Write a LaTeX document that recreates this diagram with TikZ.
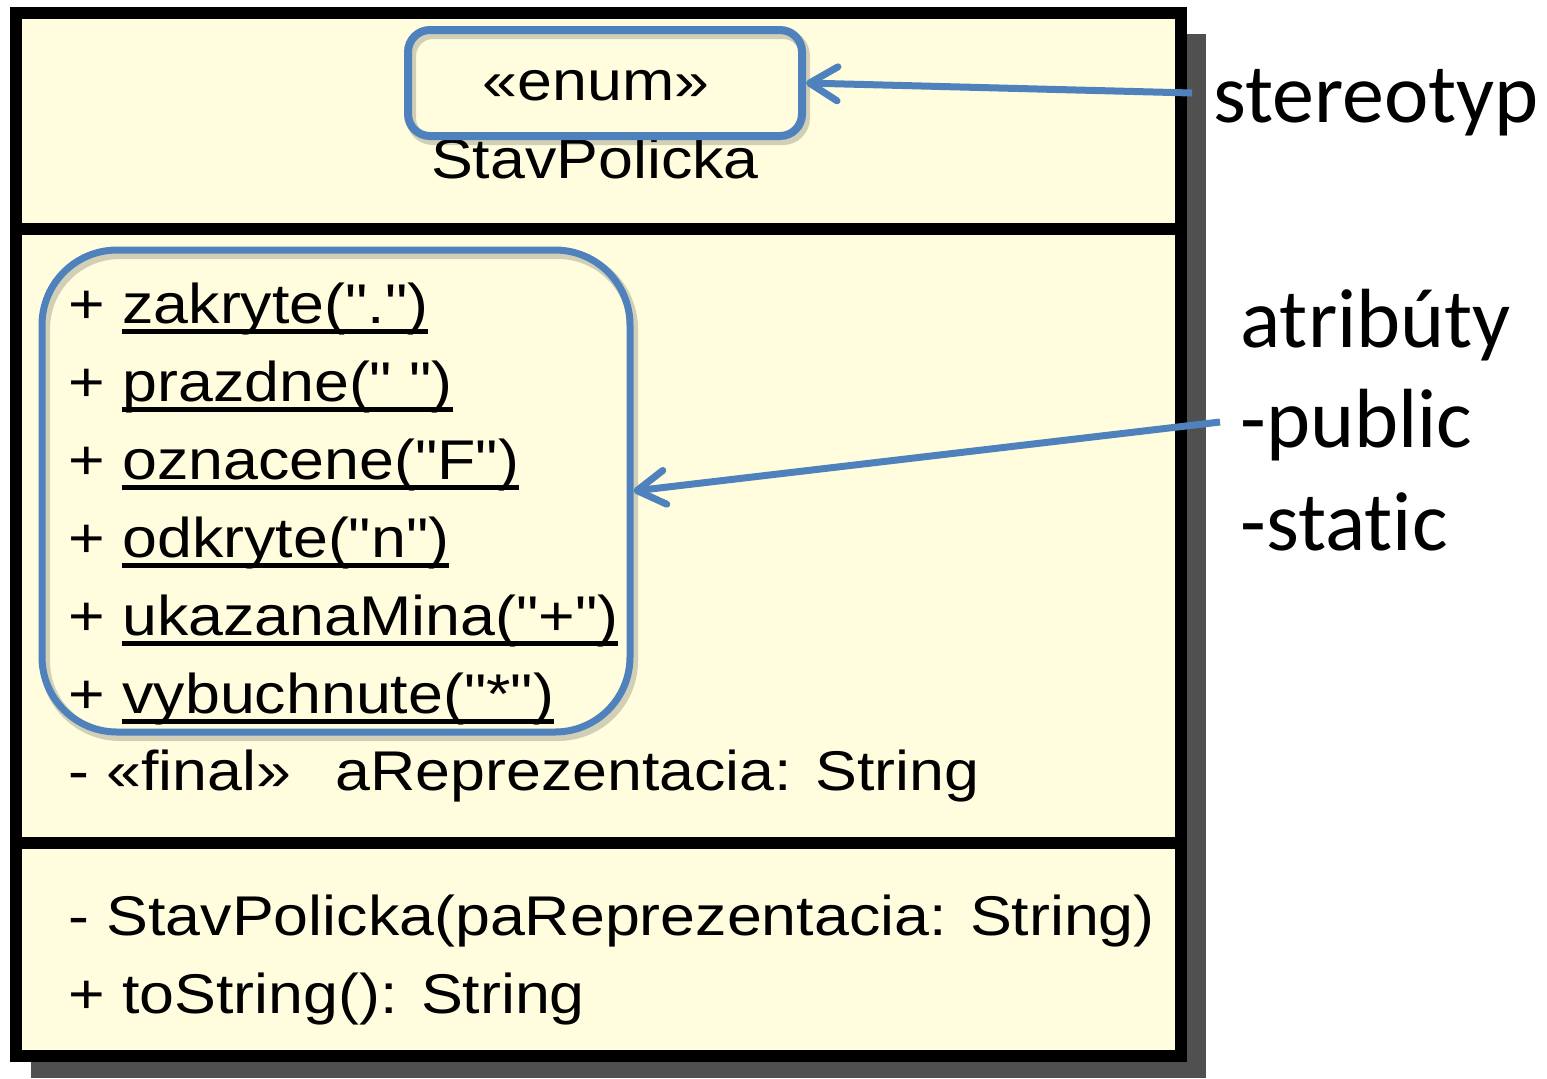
\documentclass[tikz,border=0pt]{standalone}
\usepackage{fontspec}
\setmainfont{Liberation Sans}
\newfontfamily\umlfont[FakeStretch=1.12]{Liberation Sans}
\newfontfamily\notefont[Ligatures={NoCommon}]{Carlito}
\usetikzlibrary{arrows.meta}
\definecolor{classfill}{RGB}{255,253,222}
\definecolor{shadowgray}{RGB}{80,80,80}
\definecolor{hiblue}{RGB}{79,129,189}
% underlined member name (static members in UML)
\newcommand\ulname[1]{\setbox0\hbox{#1}\rlap{\rule[-5.5pt]{\wd0}{2.5pt}}\box0}
\begin{document}
\begin{tikzpicture}[x=0.5pt,y=-0.5pt,
  uml/.style={font=\umlfont\fontsize{28}{34}\selectfont, inner sep=0, anchor=base west},
  note/.style={font=\notefont\fontsize{42}{50}\selectfont, inner sep=0, anchor=base west},
  hibox/.style={draw=hiblue, inner sep=0, fill=none},
  hishadow/.style={draw=black, draw opacity=0.18, inner sep=0, fill=none},
  conn/.style={draw=hiblue, line width=3.5pt,
    -{Straight Barb[length=14pt,width=17pt,round]}}]
\useasboundingbox (0,0) rectangle (1547,1078);

% class box with its drop shadow
\fill[shadowgray] (31,34) rectangle (1206,1078);
\draw[line width=6pt, fill=classfill] (16,13) rectangle (1181,1056);
\draw[line width=6pt] (16,229) -- (1181,229);
\draw[line width=6pt] (16,843) -- (1181,843);

% name compartment
\node[uml, anchor=base] (stereotxt) at (596,100) {«enum»};
\node[uml, anchor=base] (clsname) at (595,178) {StavPolicka};

% attribute compartment
\node[uml] (a1) at (68,323) {+ \ulname{zakryte(".")}};
\node[uml] (a2) at (68,401) {+ \ulname{prazdne(" ")}};
\node[uml] (a3) at (68,479) {+ \ulname{oznacene("F")}};
\node[uml] (a4) at (68,557) {+ \ulname{odkryte("n")}};
\node[uml] (a5) at (68,635) {+ \ulname{ukazanaMina("+")}};
\node[uml] (a6) at (68,713) {+ \ulname{vybuchnute("*")}};
\node[uml] (a7) at (68,790) {- «final»\hspace{22pt}aReprezentacia: String};

% operation compartment
\node[uml] (o1) at (68,935) {- StavPolicka(paReprezentacia: String)};
\node[uml] (o2) at (68,1013) {+ toString(): String};

% highlight frames
\node[hishadow, line width=5pt, rounded corners=11pt, minimum width=197pt, minimum height=53pt] at (608,87) {};
\node[hishadow, line width=5pt, rounded corners=37.5pt, minimum width=294pt, minimum height=241pt] at (339,495) {};
\node[hibox, line width=4pt, rounded corners=11pt, minimum width=197pt, minimum height=53pt] (stereo) at (605,83) {};
\node[hibox, line width=3.5pt, rounded corners=37.5pt, minimum width=294pt, minimum height=241pt] (attrs) at (336,491) {};

% explanatory notes
\node[note] (lstereo) at (1213,122) {stereotyp};
\node[note] (latr) at (1240,347) {atribúty};
\node[note] (lpub) at (1240,447) {-public};
\node[note] (lstat) at (1240,550) {-static};

% pointers from the notes
\coordinate (s1) at (1192,93);
\coordinate (s2) at (1220,422);
\draw[conn] (s1) -- (stereo.east);
\draw[conn] (s2) -- (attrs.east);
\end{tikzpicture}
\end{document}
